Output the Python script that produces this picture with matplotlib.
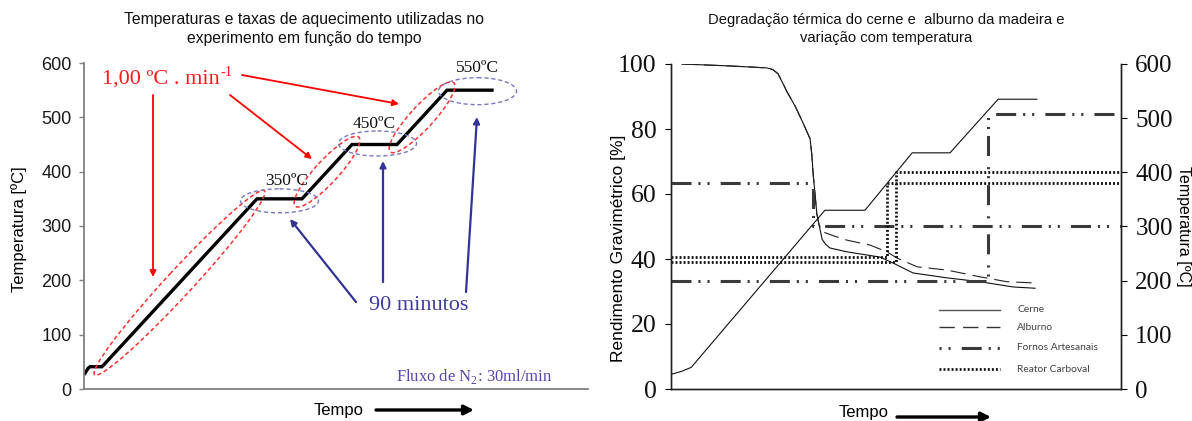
import numpy as np
import matplotlib
matplotlib.use('Agg')
import matplotlib.pyplot as plt
from matplotlib.patches import Ellipse

plt.rcParams['lines.scale_dashes'] = False
plt.rcParams['font.family'] = ['Liberation Sans', 'DejaVu Sans']

# ---------------- Left chart data ----------------
left_time = [2, 8, 12, 36, 346, 436, 536, 626, 726, 816]
left_temp = [29, 38, 41, 41, 350, 350, 450, 450, 550, 550]
left_yticks = [0, 100, 200, 300, 400, 500, 600]
plateau_labels = ['350ºC', '450ºC', '550ºC']

# ---------------- Right chart data ----------------
mass_yticks = [0, 20, 40, 60, 80, 100]
temp_yticks = [0, 100, 200, 300, 400, 500, 600]
temp_time = [0, 2.5, 4.5, 34.2, 43.1, 53.6, 62.0, 72.7, 81.3]
temp_vals = [27, 33, 40, 330, 330, 436, 436, 535, 535]
shared_time = [2.4, 13.1, 21.3, 22.6, 23.8, 25.8, 27.6, 29.3, 30.9, 31.3, 31.6, 32.0, 32.4, 32.9]
shared_mass = [100, 99.4, 98.8, 98.3, 97.0, 91.4, 87, 82, 77, 72, 66, 60, 54, 50.5]
cerne_time = shared_time + [33.6, 34.4, 35.3, 39.1, 46.4, 49.3, 53.8, 61.3, 68.7, 76.0, 80.9]
cerne_mass = shared_mass + [46, 44.5, 43.4, 42.2, 40.6, 38.8, 35.7, 34.2, 33, 31.4, 31]
alburno_time = shared_time + [33.8, 36.4, 39.1, 44.2, 48.0, 50.2, 54.7, 61.3, 68.7, 74.7, 81.3]
alburno_mass = shared_mass + [48.3, 47, 45.8, 44.3, 42.2, 40.3, 37.6, 36.6, 34.5, 33, 32.6]
fornos_a_time = [0, 31.6, 31.6, 100]
fornos_a_temp = [380, 380, 300, 300]
fornos_b_time = [0, 70.4, 70.4, 100]
fornos_b_temp = [200, 200, 507, 507]
carboval_a_time = [0, 48.0, 48.0, 100]
carboval_a_temp = [244, 244, 380, 380]
carboval_b_time = [0, 50.0, 50.0, 100]
carboval_b_temp = [234, 234, 400, 400]
legend_labels = ['Cerne', 'Alburno', 'Fornos Artesanais', 'Reator Carboval']

W, H = 1192, 421
fig = plt.figure(figsize=(W / 100, H / 100), dpi=100)

SANS = ['Liberation Sans', 'DejaVu Sans']
SERIF = ['Liberation Serif', 'DejaVu Serif']

# ---------------- Left axes ----------------
axl = fig.add_axes([84 / W, 32 / H, (588 - 84) / W, 326 / H])
axl.plot(left_time, left_temp, color='black', lw=2.4, solid_joinstyle='miter')
axl.set_xlim(0, 1008)
axl.set_ylim(0, 600)
axl.set_yticks(left_yticks)
axl.set_xticks([])
for s in ['top', 'right']:
    axl.spines[s].set_visible(False)
for s in ['left', 'bottom']:
    axl.spines[s].set_color('#808080')
    axl.spines[s].set_linewidth(1.3)
axl.tick_params(axis='y', direction='out', length=3.8, width=1.0, color='#808080',
                pad=5, labelsize=13, labelcolor='#1a1a1a')
for lab in axl.get_yticklabels():
    lab.set_family(SANS)

# ---------------- Right axes ----------------
axr = fig.add_axes([671 / W, 32 / H, 450 / W, 325 / H])
ax2 = axr.twinx()
axr.set_xlim(0, 100)
axr.set_ylim(0, 100)
ax2.set_ylim(0, 600)
axr.set_xticks([])
axr.set_yticks(mass_yticks)
ax2.set_yticks(temp_yticks)
for a in (axr, ax2):
    a.spines['top'].set_visible(False)
    for s in ['left', 'right', 'bottom']:
        a.spines[s].set_linewidth(1.0)
        a.spines[s].set_color('#222222')
axr.tick_params(axis='y', direction='out', length=4.3, pad=6, labelsize=18.5, labelcolor='#111111')
ax2.tick_params(axis='y', direction='out', length=4.3, pad=6, labelsize=18, labelcolor='#111111')
for lab in axr.get_yticklabels() + ax2.get_yticklabels():
    lab.set_family(SERIF)

FORNOS_DASH = (0, (14.4, 5, 1.5, 5, 1.5, 8))
CARB_DASH = (0, (1.4, 1.5))
for tx, ty in ((fornos_a_time, fornos_a_temp), (fornos_b_time, fornos_b_temp)):
    ax2.plot(tx, ty, color='#3a3a3a', lw=2.2, linestyle=FORNOS_DASH,
             dash_capstyle='butt', clip_on=False)
for tx, ty in ((carboval_a_time, carboval_a_temp), (carboval_b_time, carboval_b_temp)):
    ax2.plot(tx, ty, color='#111111', lw=2.0, linestyle=CARB_DASH,
             dash_capstyle='butt', clip_on=False)
ax2.plot(temp_time, temp_vals, color='#111111', lw=0.8)
axr.plot(cerne_time, cerne_mass, color='#111111', lw=0.8)
axr.plot(alburno_time, alburno_mass, color='#222222', lw=0.8, linestyle=(0, (11, 5)))

# ---------------- Overlay (pixel coordinates, top-left origin) ----------------
ov = fig.add_axes([0, 0, 1, 1], zorder=10)
ov.set_xlim(0, W)
ov.set_ylim(H, 0)
ov.axis('off')
ov.patch.set_alpha(0)


def px(ax, x, y):
    X, Y = ax.transData.transform((x, y))
    return X, H - Y


# Titles
ov.text(304, 29, 'Temperaturas e taxas de aquecimento utilizadas no\nexperimento em função do tempo',
        ha='center', va='center', fontsize=11.3, family=SANS, linespacing=1.27, color='#111111')
ov.text(886, 29, 'Degradação térmica do cerne e  alburno da madeira e\nvariação com temperatura',
        ha='center', va='center', fontsize=10.6, family=SANS,
        linespacing=1.38, color='#111111')

# Axis labels
ov.text(19, 229, 'Temperatura [ºC]', rotation=90, ha='center', va='center', fontsize=12, family=SANS)
ov.text(619, 248, 'Rendimento Gravimétrico [%]', rotation=90, ha='center', va='center',
        fontsize=12.5, family=SANS)
ov.text(1184, 226, 'Temperatura [ºC]', rotation=270, ha='center', va='center', fontsize=11.5,
        family=SANS)

# Tempo labels + arrows
ov.text(339, 410, 'Tempo', ha='center', va='center', fontsize=12, family=SANS)
ov.annotate('', xy=(474, 410), xytext=(376, 410),
            arrowprops=dict(arrowstyle='-|>', color='black', lw=2.4, mutation_scale=14,
                            shrinkA=0, shrinkB=0))
ov.text(864, 413, 'Tempo', ha='center', va='center', fontsize=12, family=SANS)
ov.annotate('', xy=(991, 417), xytext=(897, 417),
            arrowprops=dict(arrowstyle='-|>', color='black', lw=2.4, mutation_scale=14,
                            shrinkA=0, shrinkB=0))

# Red dashed ellipses around ramps
ramp_pairs = [(3, 4), (5, 6), (7, 8)]
ramp_extra = [22, 20, 20]
ramp_minor = [26, 23, 23]
for (i, j), ex, mn in zip(ramp_pairs, ramp_extra, ramp_minor):
    x0, y0 = px(axl, left_time[i], left_temp[i])
    x1, y1 = px(axl, left_time[j], left_temp[j])
    cx, cy = (x0 + x1) / 2, (y0 + y1) / 2
    L = np.hypot(x1 - x0, y1 - y0)
    ang = np.degrees(np.arctan2(y1 - y0, x1 - x0))
    ov.add_patch(Ellipse((cx, cy), L + ex, mn, angle=ang, fill=False, ec='#ff3030',
                         lw=1.1, linestyle=(0, (3, 2))))

# Blue dashed ellipses around plateaus
plat_pairs = [(4, 5), (6, 7), (8, 9)]
plat_off = [(0, 2), (3, -1), (8, 1)]
plat_h = [24, 25, 27]
label_off = [(7, -18), (0, -21), (8, -22)]
for (i, j), (dx, dy), hh, (lx, ly), lab in zip(plat_pairs, plat_off, plat_h, label_off, plateau_labels):
    x0, y0 = px(axl, left_time[i], left_temp[i])
    x1, y1 = px(axl, left_time[j], left_temp[j])
    cx, cy = (x0 + x1) / 2, (y0 + y1) / 2
    ov.add_patch(Ellipse((cx + dx, cy + dy), 78, hh, fill=False, ec='#7878c8',
                         lw=1.0, linestyle=(0, (3, 2))))
    ov.text(cx + lx, cy + ly, lab, ha='center', va='center', fontsize=12.5, family=SERIF,
            color='#111111')

# Red annotation (with superscript drawn as separate text)
rt = ov.text(102, 84, '1,00 ºC . min', ha='left', va='baseline', fontsize=16,
             family=SERIF, color='#ff1a1a')
renderer = fig.canvas.get_renderer()
bb = rt.get_window_extent(renderer=renderer)
ov.text(bb.x1 + 1, 84 - 8, '-1', ha='left', va='baseline', fontsize=10.5,
        family=SERIF, color='#ff1a1a')
red_arrows = [((153, 95), (153, 277)), ((230, 95), (312, 159)), ((242, 75), (399, 104))]
for s, e in red_arrows:
    ov.annotate('', xy=e, xytext=s,
                arrowprops=dict(arrowstyle='-|>', color='#ff0000', lw=1.3, mutation_scale=9,
                                shrinkA=0, shrinkB=0))

# Blue annotation
ov.text(419, 305, '90 minutos', ha='center', va='center', fontsize=16, family=SERIF,
        color='#3c3ca0')
blue_arrows = [((356, 302), (290, 219)), ((383, 282), (383, 161)), ((466, 292), (477, 117))]
for s, e in blue_arrows:
    ov.annotate('', xy=e, xytext=s,
                arrowprops=dict(arrowstyle='-|>', color='#333399', lw=1.6, mutation_scale=9,
                                shrinkA=0, shrinkB=0))
ov.text(396, 381, r'Fluxo de N$_{\mathregular{2}}$: 30ml/min', ha='left', va='baseline',
        fontsize=12, family=SERIF, color='#5548b0')

# Legend of right chart (manual)
leg_y = [310, 327, 348, 369]
leg_styles = [dict(color='#555555', lw=1.0, linestyle='-'),
              dict(color='#333333', lw=1.0, linestyle=(0, (11, 6))),
              dict(color='#3a3a3a', lw=2.2, linestyle=(19.4, (14.4, 5, 1.5, 5, 1.5, 8)),
                   dash_capstyle='butt'),
              dict(color='#111111', lw=2.0, linestyle=CARB_DASH, dash_capstyle='butt')]
for y, st, lab in zip(leg_y, leg_styles, legend_labels):
    ov.plot([939, 1000], [y, y], **st)
    ov.text(1017, y, lab, ha='left', va='center', fontsize=7.4, family=['Lato'] + SANS,
            color='#404040')

fig.savefig('out.png', dpi=100)
